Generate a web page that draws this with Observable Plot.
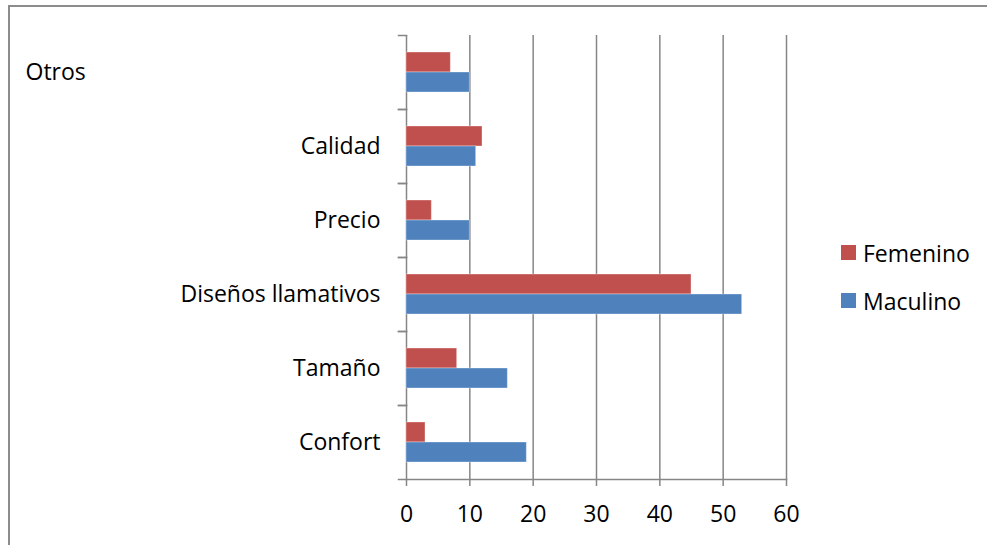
<!DOCTYPE html>
<html>
<head>
<meta charset="utf-8">
<script src="https://cdn.jsdelivr.net/npm/d3@7"></script>
<script src="https://cdn.jsdelivr.net/npm/@observablehq/plot@0.6"></script>
<style>
  html, body { margin: 0; padding: 0; background: #fff; }
  #wrap { position: relative; width: 987px; height: 545px; overflow: hidden; font-family: "Open Sans", sans-serif; }
  #border { position: absolute; left: 8px; top: 5px; right: -10px; bottom: -10px; border-top: 2px solid #8c8c8c; border-left: 2px solid #8c8c8c; }
  .key { position: absolute; left: 841px; display: flex; align-items: center; font-size: 23px; color: #000; }
  .key span.sw { display: inline-block; width: 15px; height: 15px; margin-right: 7px; }
</style>
</head>
<body>
<div id="wrap">
  <div id="border"></div>
  <div id="chart"></div>
  <div id="legend"></div>
</div>
<script>
// Categories, listed top to bottom
const categories = ["Otros", "Calidad", "Precio", "Diseños llamativos", "Tamaño", "Confort"];
const series = ["Femenino", "Maculino"];
const femenino = [7, 12, 4, 45, 8, 3];
const maculino = [10, 11, 10, 53, 16, 19];
const xTicks = [0, 10, 20, 30, 40, 50, 60];
const seriesColors = ["#C0504D", "#4F81BD"];

const rows = categories.flatMap((cat, i) => [
  {cat, serie: "Femenino", value: femenino[i]},
  {cat, serie: "Maculino", value: maculino[i]}
]);

const W = 987, H = 545, mL = 406, mR = 201, mT = 35, mB = 66;
const grey = "#868686";

const chart = Plot.plot({
  width: W,
  height: H,
  marginLeft: mL,
  marginRight: mR,
  marginTop: mT,
  marginBottom: mB,
  style: {fontFamily: "'Open Sans', sans-serif", fontSize: "23px", color: "#000", background: "transparent"},
  x: {domain: [0, 60], axis: null},
  y: {domain: series, paddingInner: 0, paddingOuter: 0.79, axis: null},
  fy: {domain: categories, padding: 0, axis: null},
  color: {domain: series, range: seriesColors},
  marks: [
    // vertical gridlines (the one at 0 doubles as the category axis line)
    Plot.ruleX(xTicks, {stroke: grey, strokeWidth: 1.5}),
    // category boundary ticks on the left of the axis
    Plot.frame({anchor: "top", stroke: grey, strokeWidth: 1.5, insetLeft: -8, insetRight: W - mL - mR}),
    Plot.frame({anchor: "bottom", stroke: grey, strokeWidth: 1.5, insetLeft: -8, insetRight: W - mL - mR}),
    // value axis line, drawn under the last category only
    Plot.frame({anchor: "bottom", facetAnchor: "bottom", stroke: grey, strokeWidth: 1.5}),
    // bars
    Plot.barX(rows, {fy: "cat", y: "serie", x: "value", fill: "serie", stroke: "#fff", strokeOpacity: 0.35, strokeWidth: 1}),
    // category labels
    Plot.text(categories.filter((c) => c !== "Otros"), {fy: (d) => d, text: (d) => d, frameAnchor: "left", textAnchor: "end", dx: -26, fill: "#000"}),
    Plot.text(["Otros"], {fy: (d) => d, text: (d) => d, frameAnchor: "left", textAnchor: "start", dx: 25 - mL, fill: "#000"}),
    // value axis ticks and labels
    Plot.axisX({ticks: xTicks, tickSize: 7, tickPadding: 19, stroke: grey, strokeWidth: 1.5, fill: "#000", label: null, tickFormat: (d) => String(d)})
  ]
});
document.getElementById("chart").appendChild(chart);

// legend
const legend = document.getElementById("legend");
const legendTops = [252.5, 300.5];
series.forEach((s, i) => {
  const row = document.createElement("div");
  row.className = "key";
  row.style.top = (legendTops[i] - 15) + "px";
  row.style.height = "30px";
  const sw = document.createElement("span");
  sw.className = "sw";
  sw.style.background = seriesColors[i];
  const label = document.createElement("span");
  label.textContent = s;
  row.appendChild(sw);
  row.appendChild(label);
  legend.appendChild(row);
});
</script>
</body>
</html>
